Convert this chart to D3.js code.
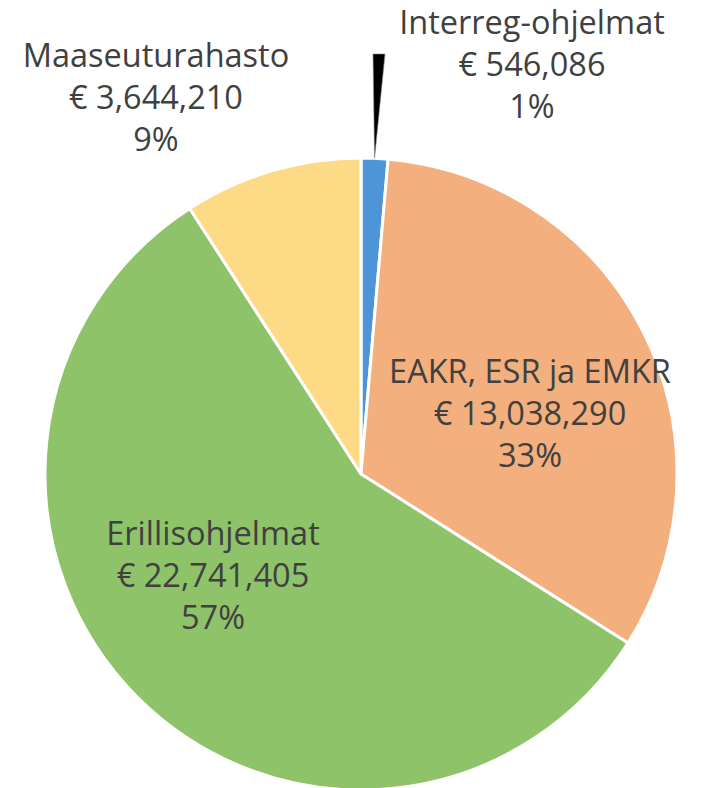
<!DOCTYPE html>
<html>
<head>
<meta charset="utf-8">
<script src="https://cdn.jsdelivr.net/npm/d3@7"></script>
<style>
  html, body { margin: 0; padding: 0; background: #fff; }
  svg text { font-family: "Open Sans", Lato, sans-serif; fill: #404040; }
</style>
</head>
<body>
<svg id="chart" width="704" height="788"></svg>
<script>
(function () {
  'use strict';

  var names = ['Interreg-ohjelmat', 'EAKR, ESR ja EMKR', 'Erillisohjelmat', 'Maaseuturahasto'];
  var amounts = [546086, 13038290, 22741405, 3644210];
  var percentLabels = ['1%', '33%', '57%', '9%'];
  var colors = ['#4e95d8', '#f3af7e', '#8ec36a', '#fddb86'];

  // label anchor (center x, first baseline y) for each slice
  var labelPos = [[532, 34], [530, 383], [213, 545], [156, 67]];

  var svg = d3.select('#chart'),
      cx = 361,
      cy = 474,
      radius = 316,
      lineGap = 42;

  var g = svg.append('g')
      .attr('transform', 'translate(' + cx + ',' + cy + ')');

  var pie = d3.pie().sort(null).value(function (d) { return d; });
  var arc = d3.arc().innerRadius(0).outerRadius(radius);
  var arcs = pie(amounts);

  g.selectAll('path.slice')
      .data(arcs)
    .enter().append('path')
      .attr('class', 'slice')
      .attr('d', arc)
      .attr('fill', function (d, i) { return colors[i]; })
      .attr('stroke', '#fff')
      .attr('stroke-width', 3)
      .attr('stroke-linejoin', 'round');

  // leader wedge for the small slice
  var small = arcs[0];
  var mid = (small.startAngle + small.endAngle) / 2;
  var tip = [cx + radius * Math.sin(mid), cy - radius * Math.cos(mid)];
  svg.append('path')
      .attr('d', 'M' + (labelPos[0][0] - 159) + ',54L' + (labelPos[0][0] - 147) + ',54L' + tip[0] + ',' + tip[1] + 'Z')
      .attr('fill', '#000')
      .attr('stroke', '#888')
      .attr('stroke-width', 0.6);

  var fmt = d3.format(',');
  var labels = svg.selectAll('text.lbl')
      .data(arcs)
    .enter().append('text')
      .attr('class', 'lbl')
      .attr('text-anchor', 'middle')
      .attr('font-size', 32.5);

  labels.each(function (d, i) {
    var t = d3.select(this);
    var lines = [names[i], '€ ' + fmt(amounts[i]), percentLabels[i]];
    lines.forEach(function (s, k) {
      t.append('tspan')
        .attr('x', labelPos[i][0])
        .attr('y', labelPos[i][1] + k * lineGap)
        .text(s);
    });
  });
})();
</script>
</body>
</html>
